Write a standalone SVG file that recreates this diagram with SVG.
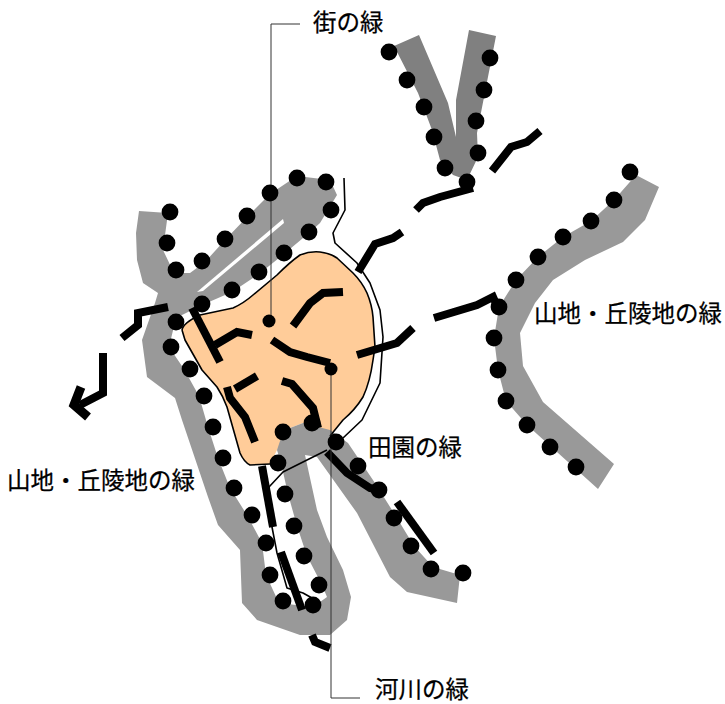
<svg xmlns="http://www.w3.org/2000/svg" width="725" height="704" viewBox="0 0 725 704">
<style>
.g1{fill:#999;stroke:none}
.g2{fill:#808080;stroke:none}
.w{fill:#fff;stroke:none}
.t{fill:none;stroke:#000;stroke-width:1.6;stroke-linejoin:round}
.l{fill:none;stroke:#333;stroke-width:1}
.k{fill:none;stroke:#000;stroke-width:8;stroke-linejoin:miter}
.d circle{fill:#000;r:8.4px}
text{font-family:"Noto Sans CJK JP","Noto Sans",sans-serif;font-size:23.5px;fill:#000;stroke:#000;stroke-width:.25}
</style>
<rect width="725" height="704" fill="#fff"/>
<g id="urban">
<path d="M182 330Q183 323 200 315L233 308Q244 303 253 295L277 275Q290 262 300 255Q310 251 320 252Q330 253 337 258L353 273Q362 282 367 293Q372 305 373 317L375 347L373 360Q370 382 363 397Q355 410 343 420L330 436L303 423L290 428L277 450L270 464L250 465Q244 462 240 453L227 407Q223 396 217 387L202 370L185 340Z" fill="#fc9" stroke="none"/>
</g>
<g id="mountain-west">
<path class="g1" d="M139 211L168 213L163 250L174 273L190 273L205 262L225 240L247 217L270 194L297 176L330 180L337 195L320 223L309 233L284 254L259 274L232 292L202 305L176 318L169 347L184 369L199 396L208 427L218 458L230 488L247 515L262 543L266 575L279 603L313 607L327 597L322 585L307 556L297 526L288 494L281 463L277 450L283 432L290 428L303 423L330 430L348 443L375 483L397 518L414 546L433 567L460 575L457 603L407 592L390 577L357 513L317 457L305 455L317 510L327 537L343 570L351 597L347 620L330 635L300 635L257 620L242 603L240 550L218 525L208 497L182 420L175 398L147 377L142 340L155 303L158 293L143 283L137 260L136 233Z"/>
<path class="w" d="M197 292L283 219L284 223L203 291Z"/>
</g>
<g id="mountain-north">
<path class="g2" d="M394 46L419 35L448 103L456 137L456 100L469 30L496 36L477 133L478 157L467 180L453 175L440 160L432 130L418 93Z"/>
</g>
<g id="mountain-east">
<path class="g1" d="M636 175L659 187L645 220L623 242L585 260L553 280L535 303L520 333L523 366L543 402L614 464L598 489L527 425L506 401L498 370L494 338L499 307L516 280L538 257L563 237L591 221L614 200Z"/>
</g>
<g id="connectors">
<path class="t" d="M182 330Q183 323 200 315L233 308Q244 303 253 295L277 275Q290 262 300 255Q310 251 320 252Q330 253 337 258L353 273Q362 282 367 293Q372 305 373 317L375 347L373 360Q370 382 363 397Q355 410 343 420L330 436"/>
<path class="t" d="M182 330L185 340L202 370L217 387Q223 396 227 407L240 453Q244 462 250 465L270 464"/>
<path class="t" d="M344 178L345 210L333 233L335 243L357 263L370 283L380 310L383 337L380 383L362 420L343 438"/>
<path class="t" d="M327 450L297 465L283 472L269 487L272 527L277 553L287 588L303 593L312 598"/>
<path class="k" d="M122 338L138 325L138 313L168 307"/>
<path class="k" d="M103 353L103 393L80 405"/>
<path class="k" style="stroke-width:9" d="M81 387L74 405L88 417"/>
<path class="k" d="M192 308L220 362"/>
<path class="k" d="M215 345L237 332L252 335"/>
<path class="k" d="M293 326L310 303L323 293L343 292"/>
<path class="k" d="M272 340L290 352L307 357L330 363"/>
<path class="k" d="M357 355L397 343L413 328"/>
<path class="k" d="M434 318L477 305L493 297L497 306"/>
<path class="k" d="M358 272L375 244L393 238L402 232"/>
<path class="k" d="M416 210L423 203L440 197L473 188"/>
<path class="k" d="M492 171L511 147L527 142L540 131"/>
<path class="k" d="M235 389L257 376"/>
<path class="k" d="M227 387L230 398L245 417L255 442"/>
<path class="k" d="M282 381L292 384L313 408L318 428"/>
<path class="k" d="M262 466L273 527"/>
<path class="k" d="M281 552L302 610"/>
<path class="k" d="M312 635L315 642L330 648"/>
<path class="k" d="M327 452L347 473L370 488L379 490"/>
<path class="k" d="M397 502L434 553"/>
<path class="l" d="M300 24H271V321"/>
<path class="l" d="M331 369V698H360"/>
</g>
<g id="dots" class="d">
<circle cx="170" cy="212"/><circle cx="167" cy="243"/><circle cx="176" cy="270"/><circle cx="202" cy="261"/><circle cx="225" cy="239"/><circle cx="247" cy="216"/><circle cx="270" cy="193"/><circle cx="297" cy="178"/><circle cx="326" cy="182"/><circle cx="331" cy="210"/><circle cx="309" cy="232"/><circle cx="284" cy="253"/><circle cx="259" cy="272"/><circle cx="232" cy="290"/><circle cx="202" cy="304"/><circle cx="176" cy="322"/><circle cx="171" cy="347"/><circle cx="190" cy="369"/><circle cx="204" cy="396"/><circle cx="213" cy="427"/><circle cx="223" cy="458"/><circle cx="234" cy="488"/><circle cx="252" cy="515"/><circle cx="266" cy="543"/><circle cx="270" cy="575"/><circle cx="283" cy="601"/><circle cx="313" cy="605"/><circle cx="319" cy="585"/><circle cx="304" cy="556"/><circle cx="294" cy="526"/><circle cx="285" cy="494"/><circle cx="278" cy="463"/><circle cx="283" cy="432"/><circle cx="312" cy="423"/><circle cx="336" cy="442"/><circle cx="358" cy="466"/><circle cx="379" cy="490"/><circle cx="394" cy="518"/><circle cx="411" cy="546"/><circle cx="431" cy="569"/><circle cx="463" cy="573"/>
<circle cx="389" cy="52"/><circle cx="407" cy="80"/><circle cx="424" cy="107"/><circle cx="434" cy="137"/><circle cx="445" cy="168"/><circle cx="467" cy="182"/><circle cx="478" cy="153"/><circle cx="476" cy="121"/><circle cx="484" cy="90"/><circle cx="490" cy="58"/>
<circle cx="630" cy="172"/><circle cx="614" cy="200"/><circle cx="591" cy="221"/><circle cx="563" cy="237"/><circle cx="538" cy="257"/><circle cx="516" cy="280"/><circle cx="499" cy="307"/><circle cx="494" cy="338"/><circle cx="498" cy="370"/><circle cx="506" cy="401"/><circle cx="527" cy="425"/><circle cx="550" cy="447"/><circle cx="576" cy="467"/>
<circle cx="269" cy="321" style="r:6.5px"/><circle cx="331" cy="369" style="r:6.5px"/>
</g>
<g id="labels">
<text x="313" y="31">街の緑</text>
<text x="534" y="322">山地・丘陵地の緑</text>
<text x="7" y="489">山地・丘陵地の緑</text>
<text x="368" y="456">田園の緑</text>
<text x="375" y="698">河川の緑</text>
</g>
</svg>
